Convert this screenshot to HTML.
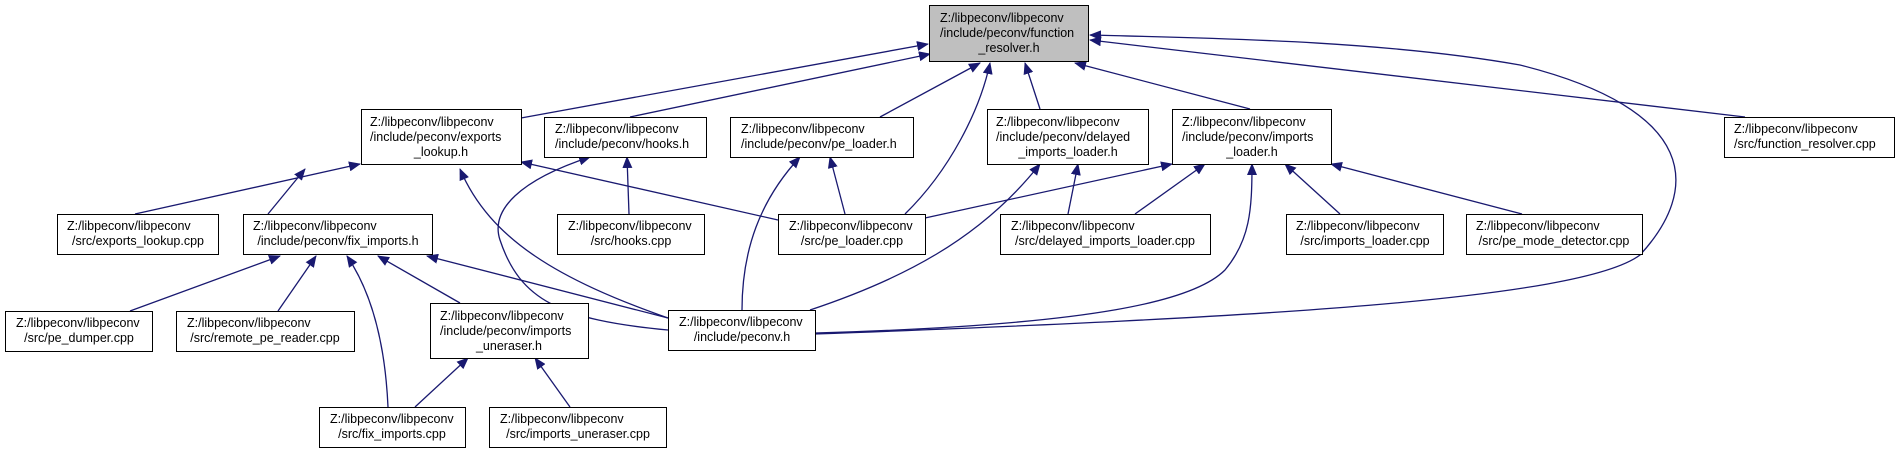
<!DOCTYPE html>
<html><head><meta charset="utf-8"><style>
html,body{margin:0;padding:0;background:#fff;}
svg{display:block;}
text{font-family:"Liberation Sans",Arial,sans-serif;font-size:12.5px;fill:#000;}
</style></head><body>
<svg width="1899" height="453" viewBox="0 0 1899 453" xmlns="http://www.w3.org/2000/svg">
<defs>
<marker id="a" markerWidth="12" markerHeight="10" refX="11" refY="5" orient="auto" markerUnits="userSpaceOnUse">
<path d="M0,0 L12,5 L0,10 Z" fill="#191970"/>
</marker>
</defs>
<g fill="none" stroke="#191970" stroke-width="1.3" marker-end="url(#a)">
<!-- to function_resolver.h -->
<path d="M521,118 L928,44"/>
<path d="M630,117 L930,54"/>
<path d="M880,117 L980,63"/>
<path d="M1040,109 L1025,63"/>
<path d="M1250,109 L1075,63"/>
<path d="M1745,117 L1090,40"/>
<path d="M905,214 C950,170 980,110 990,63"/>
<path d="M815,334 C1250,318 1580,300 1640,255 C1700,190 1700,110 1520,65 C1380,40 1200,38 1090,35"/>
<!-- to exports_lookup.h -->
<path d="M135,214 L360,164"/>
<path d="M268,214 L305,169"/>
<path d="M778,220 L521,162"/>
<path d="M668,318 C560,280 490,240 460,169"/>
<!-- to hooks.h -->
<path d="M629,214 L627,157"/>
<path d="M668,330 C560,320 520,300 500,240 C490,210 520,180 590,157"/>
<!-- to pe_loader.h -->
<path d="M845,214 L830,157"/>
<path d="M742,310 C742,250 760,200 800,157"/>
<!-- to delayed_imports_loader.h -->
<path d="M1068,214 L1078,164"/>
<path d="M810,310 C900,280 980,240 1040,164"/>
<!-- to imports_loader.h -->
<path d="M925,218 L1172,164"/>
<path d="M1135,214 L1205,164"/>
<path d="M1340,214 L1285,164"/>
<path d="M1522,214 L1331,164"/>
<path d="M815,333 C1100,325 1195,300 1225,270 C1250,240 1252,210 1252,164"/>
<!-- to fix_imports.h -->
<path d="M130,311 L280,256"/>
<path d="M278,311 L316,256"/>
<path d="M388,407 C385,340 370,290 347,256"/>
<path d="M460,303 L378,256"/>
<path d="M668,318 L427,256"/>
<!-- to imports_uneraser.h -->
<path d="M415,407 L468,358"/>
<path d="M570,407 L535,358"/>
</g>
<g fill="#fff" stroke="#000" stroke-width="1">
<rect x="929.5" y="5.5" width="159" height="56" fill="#bfbfbf"/>
<rect x="361.5" y="109.5" width="160" height="55"/>
<rect x="544.5" y="117.5" width="162" height="40"/>
<rect x="730.5" y="117.5" width="183" height="40"/>
<rect x="987.5" y="109.5" width="161" height="55"/>
<rect x="1172.5" y="109.5" width="159" height="55"/>
<rect x="1724.5" y="117.5" width="170" height="40"/>
<rect x="57.5" y="214.5" width="161" height="40"/>
<rect x="243.5" y="214.5" width="189" height="40"/>
<rect x="557.5" y="214.5" width="147" height="40"/>
<rect x="778.5" y="214.5" width="147" height="40"/>
<rect x="1000.5" y="214.5" width="210" height="40"/>
<rect x="1286.5" y="214.5" width="157" height="40"/>
<rect x="1466.5" y="214.5" width="176" height="40"/>
<rect x="5.5" y="311.5" width="147" height="40"/>
<rect x="176.5" y="311.5" width="178" height="40"/>
<rect x="430.5" y="303.5" width="158" height="55"/>
<rect x="668.5" y="310.5" width="147" height="40"/>
<rect x="319.5" y="407.5" width="146" height="40"/>
<rect x="489.5" y="407.5" width="177" height="40"/>
</g>
<g>
<text x="940" y="22">Z:/libpeconv/libpeconv</text>
<text x="940" y="37">/include/peconv/function</text>
<text x="1009" y="52" text-anchor="middle">_resolver.h</text>

<text x="370" y="126">Z:/libpeconv/libpeconv</text>
<text x="370" y="141">/include/peconv/exports</text>
<text x="441" y="156" text-anchor="middle">_lookup.h</text>

<text x="555" y="133">Z:/libpeconv/libpeconv</text>
<text x="555" y="148">/include/peconv/hooks.h</text>

<text x="741" y="133">Z:/libpeconv/libpeconv</text>
<text x="741" y="148">/include/peconv/pe_loader.h</text>

<text x="996" y="126">Z:/libpeconv/libpeconv</text>
<text x="996" y="141">/include/peconv/delayed</text>
<text x="1068" y="156" text-anchor="middle">_imports_loader.h</text>

<text x="1182" y="126">Z:/libpeconv/libpeconv</text>
<text x="1182" y="141">/include/peconv/imports</text>
<text x="1252" y="156" text-anchor="middle">_loader.h</text>

<text x="1734" y="133">Z:/libpeconv/libpeconv</text>
<text x="1734" y="148">/src/function_resolver.cpp</text>

<text x="67" y="230">Z:/libpeconv/libpeconv</text>
<text x="138" y="245" text-anchor="middle">/src/exports_lookup.cpp</text>

<text x="253" y="230">Z:/libpeconv/libpeconv</text>
<text x="338" y="245" text-anchor="middle">/include/peconv/fix_imports.h</text>

<text x="568" y="230">Z:/libpeconv/libpeconv</text>
<text x="631" y="245" text-anchor="middle">/src/hooks.cpp</text>

<text x="789" y="230">Z:/libpeconv/libpeconv</text>
<text x="852" y="245" text-anchor="middle">/src/pe_loader.cpp</text>

<text x="1011" y="230">Z:/libpeconv/libpeconv</text>
<text x="1105" y="245" text-anchor="middle">/src/delayed_imports_loader.cpp</text>

<text x="1296" y="230">Z:/libpeconv/libpeconv</text>
<text x="1365" y="245" text-anchor="middle">/src/imports_loader.cpp</text>

<text x="1476" y="230">Z:/libpeconv/libpeconv</text>
<text x="1554" y="245" text-anchor="middle">/src/pe_mode_detector.cpp</text>

<text x="16" y="327">Z:/libpeconv/libpeconv</text>
<text x="79" y="342" text-anchor="middle">/src/pe_dumper.cpp</text>

<text x="187" y="327">Z:/libpeconv/libpeconv</text>
<text x="265" y="342" text-anchor="middle">/src/remote_pe_reader.cpp</text>

<text x="440" y="320">Z:/libpeconv/libpeconv</text>
<text x="440" y="335">/include/peconv/imports</text>
<text x="509" y="350" text-anchor="middle">_uneraser.h</text>

<text x="679" y="326">Z:/libpeconv/libpeconv</text>
<text x="742" y="341" text-anchor="middle">/include/peconv.h</text>

<text x="330" y="423">Z:/libpeconv/libpeconv</text>
<text x="392" y="438" text-anchor="middle">/src/fix_imports.cpp</text>

<text x="500" y="423">Z:/libpeconv/libpeconv</text>
<text x="578" y="438" text-anchor="middle">/src/imports_uneraser.cpp</text>
</g>
</svg>
</body></html>
